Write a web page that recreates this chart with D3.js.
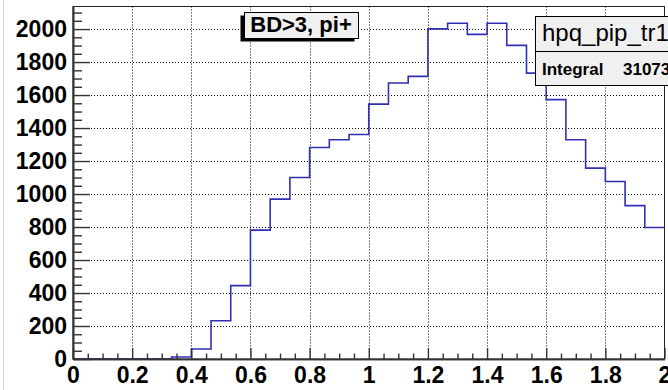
<!DOCTYPE html>
<html>
<head>
<meta charset="utf-8">
<script src="https://cdn.jsdelivr.net/npm/d3@7"></script>
<style>
body { margin: 0; background: #fff; }
svg { display: block; }
text { font-family: "Liberation Sans", Arial, Helvetica, sans-serif; }
</style>
</head>
<body>
<svg id="chart" width="668" height="390"></svg>
<script>
// histogram: 30 bins on [0, 2]
var xLow = 0, xHigh = 2;
var counts = [0, 0, 0, 0, 0, 12, 61, 232, 445, 781,
	969, 1100, 1282, 1329, 1361, 1545, 1673, 1713, 2001, 2035,
	1968, 2035, 1901, 1733, 1572, 1329, 1157, 1076, 930, 797];

var xTicks = [0, 0.2, 0.4, 0.6, 0.8, 1, 1.2, 1.4, 1.6, 1.8, 2];
var xTickLabels = ["0", "0.2", "0.4", "0.6", "0.8", "1", "1.2", "1.4", "1.6", "1.8", "2"];
var yTicks = [0, 200, 400, 600, 800, 1000, 1200, 1400, 1600, 1800, 2000];
var yTickLabels = ["0", "200", "400", "600", "800", "1000", "1200", "1400", "1600", "1800", "2000"];

var titleText = "BD>3, pi+";
var statsName = "hpq_pip_tr1";
var statsLabel = "Integral";
var statsValue = "31073";

var svg = d3.select("#chart");

var frameL = 73, frameR = 664.5, frameT = 6.5, frameB = 359;
var binWidth = (xHigh - xLow) / counts.length;
var yMax = d3.max(counts) * 1.05;

var x = d3.scaleLinear().domain([xLow, xHigh]).range([frameL, frameR]);
var y = d3.scaleLinear().domain([0, yMax]).range([frameB, frameT]);

// window edge
svg.append("line")
	.attr("x1", 3.5).attr("x2", 3.5).attr("y1", 0).attr("y2", 390)
	.attr("stroke", "#d4d4d4").attr("stroke-width", 1);

// grid
var gGrid = svg.append("g").attr("class", "grid")
	.attr("stroke", "#000").attr("stroke-width", 1).attr("stroke-dasharray", "1,2");
gGrid.selectAll(".gx").data(xTicks.slice(1, -1)).enter().append("line")
	.attr("x1", function(d) { return Math.round(x(d)) + 0.5; })
	.attr("x2", function(d) { return Math.round(x(d)) + 0.5; })
	.attr("y1", frameT).attr("y2", frameB);
gGrid.selectAll(".gy").data(yTicks.slice(1)).enter().append("line")
	.attr("y1", function(d) { return Math.round(y(d)) + 0.5; })
	.attr("y2", function(d) { return Math.round(y(d)) + 0.5; })
	.attr("x1", frameL).attr("x2", frameR);

// histogram outline
var pts = counts.map(function(c, i) { return [xLow + i * binWidth, c]; });
pts.push([xHigh, counts[counts.length - 1]]);
var step = d3.line()
	.x(function(d) { return x(d[0]); })
	.y(function(d) { return y(d[1]); })
	.curve(d3.curveStepAfter);
svg.append("path").datum(pts)
	.attr("d", step)
	.attr("fill", "none")
	.attr("stroke", "#3030b4")
	.attr("stroke-width", 1.6);

// frame
svg.append("rect")
	.attr("x", frameL).attr("y", frameT)
	.attr("width", frameR - frameL).attr("height", frameB - frameT)
	.attr("fill", "none").attr("stroke", "#222").attr("stroke-width", 1);

// minor ticks
var xMinor = d3.range(0, 41).map(function(i) { return i * 0.05; })
	.filter(function(v) { return Math.abs(v * 5 - Math.round(v * 5)) > 1e-6; });
var yMinor = d3.range(0, 43).map(function(i) { return i * 50; })
	.filter(function(v) { return v % 200 != 0 && v <= yMax; });

var axisStyle = function(g) {
	g.select(".domain").attr("stroke", "#333").attr("stroke-width", 1.6);
	g.selectAll(".tick line").attr("stroke", "#333").attr("stroke-width", 1.4);
	g.selectAll("text").attr("fill", "#000").attr("font-size", "23px")
		.attr("font-weight", "bold")
		.attr("font-family", "'Liberation Sans', Arial, Helvetica, sans-serif");
};

svg.append("g").attr("transform", "translate(0," + frameB + ")")
	.call(d3.axisBottom(x).tickValues(xMinor).tickSize(-5.5).tickSizeOuter(0).tickFormat(""))
	.call(axisStyle);
svg.append("g").attr("transform", "translate(0," + frameB + ")")
	.call(d3.axisBottom(x).tickValues(xTicks).tickSize(-11).tickSizeOuter(0).tickPadding(8)
		.tickFormat(function(d, i) { return xTickLabels[i]; }))
	.call(axisStyle);

svg.append("g").attr("transform", "translate(" + frameL + ",0)")
	.call(d3.axisLeft(y).tickValues(yMinor).tickSize(-9).tickSizeOuter(0).tickFormat(""))
	.call(axisStyle);
svg.append("g").attr("transform", "translate(" + frameL + ",0)")
	.call(d3.axisLeft(y).tickValues(yTicks).tickSize(-17).tickSizeOuter(0).tickPadding(6)
		.tickFormat(function(d, i) { return yTickLabels[i]; }))
	.call(axisStyle);

// title pave
var tb = {x: 244, y: 12, w: 114, h: 26};
svg.append("rect")
	.attr("x", tb.x - 3.5).attr("y", tb.y + 3.5).attr("width", tb.w).attr("height", tb.h)
	.attr("fill", "#000");
svg.append("rect")
	.attr("x", tb.x + 0.5).attr("y", tb.y + 0.5).attr("width", tb.w).attr("height", tb.h)
	.attr("fill", "#f0f0f0").attr("stroke", "#000").attr("stroke-width", 1);
svg.append("text")
	.attr("x", tb.x + tb.w / 2).attr("y", tb.y + 20)
	.attr("text-anchor", "middle")
	.attr("font-size", "22px").attr("font-weight", "bold")
	.text(titleText);

// stats box
var sb = {x: 535.5, y: 16.5, w: 200, h: 69, div: 35};
svg.append("rect")
	.attr("x", sb.x).attr("y", sb.y).attr("width", sb.w).attr("height", sb.h)
	.attr("fill", "#f0f0f0").attr("stroke", "#000").attr("stroke-width", 1);
svg.append("line")
	.attr("x1", sb.x).attr("x2", sb.x + sb.w)
	.attr("y1", sb.y + sb.div).attr("y2", sb.y + sb.div)
	.attr("stroke", "#000").attr("stroke-width", 1);
svg.append("text")
	.attr("x", sb.x + 6.5).attr("y", sb.y + 24)
	.attr("font-size", "24px")
	.text(statsName);
svg.append("text")
	.attr("x", sb.x + 6.5).attr("y", sb.y + 58)
	.attr("font-size", "17px").attr("font-weight", "bold")
	.text(statsLabel);
svg.append("text")
	.attr("x", 623).attr("y", sb.y + 58)
	.attr("font-size", "17px").attr("font-weight", "bold")
	.text(statsValue);
</script>
</body>
</html>
